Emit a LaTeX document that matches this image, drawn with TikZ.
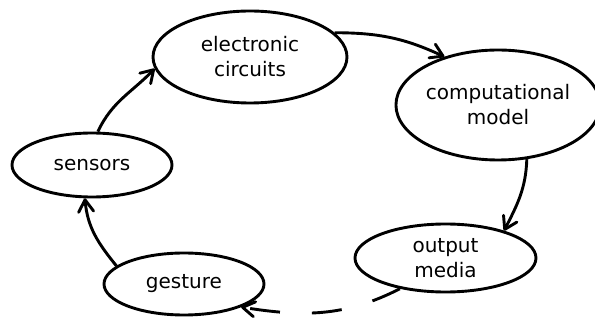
\documentclass[tikz,border=0pt]{standalone}
\usepackage{fontspec}
\setmainfont{DejaVu Sans}
\usetikzlibrary{shapes.geometric,arrows.meta}
\tikzset{
  blob/.style={ellipse, draw, line width=2.9pt, inner sep=0pt, align=center,
    font=\fontsize{20pt}{25pt}\selectfont},
  link/.style={line width=2.9pt, ->},
  >={Straight Barb[length=12pt,width=15pt,round]}
}
\begin{document}
\begin{tikzpicture}[x=1pt,y=1pt]
\useasboundingbox (0,0) rectangle (595,-320);
\clip (0,0) rectangle (595,-320);

% the five stages of the loop
\node[blob, minimum width=194pt, minimum height=92pt]  (ec) at (250,-57)   {electronic\\circuits};
\node[blob, minimum width=190pt, minimum height=110pt] (cm) at (498,-105)  {computational\\model};
\node[blob, minimum width=160pt, minimum height=64pt]  (se) at (92,-165)   {sensors};
\node[blob, minimum width=181pt, minimum height=68pt]  (om) at (445.5,-258) {output\\media};
\node[blob, minimum width=160pt, minimum height=62pt]  (ge) at (184,-284)  {gesture};

% connectors round the loop
\draw[link] (se.80)  to[out=65,in=226]  (ec.187);
\draw[link] (ec.16)  to[out=0,in=155]   (cm.138);
\draw[link] (cm.298) to[out=268,in=63]  (om.25);
\draw[link, dash pattern=on 30pt off 32pt] (om.214) to[out=207,in=-9] (ge.-22);
\draw[link] (ge.165) to[out=129,in=275] (se.258);
\end{tikzpicture}
\end{document}
